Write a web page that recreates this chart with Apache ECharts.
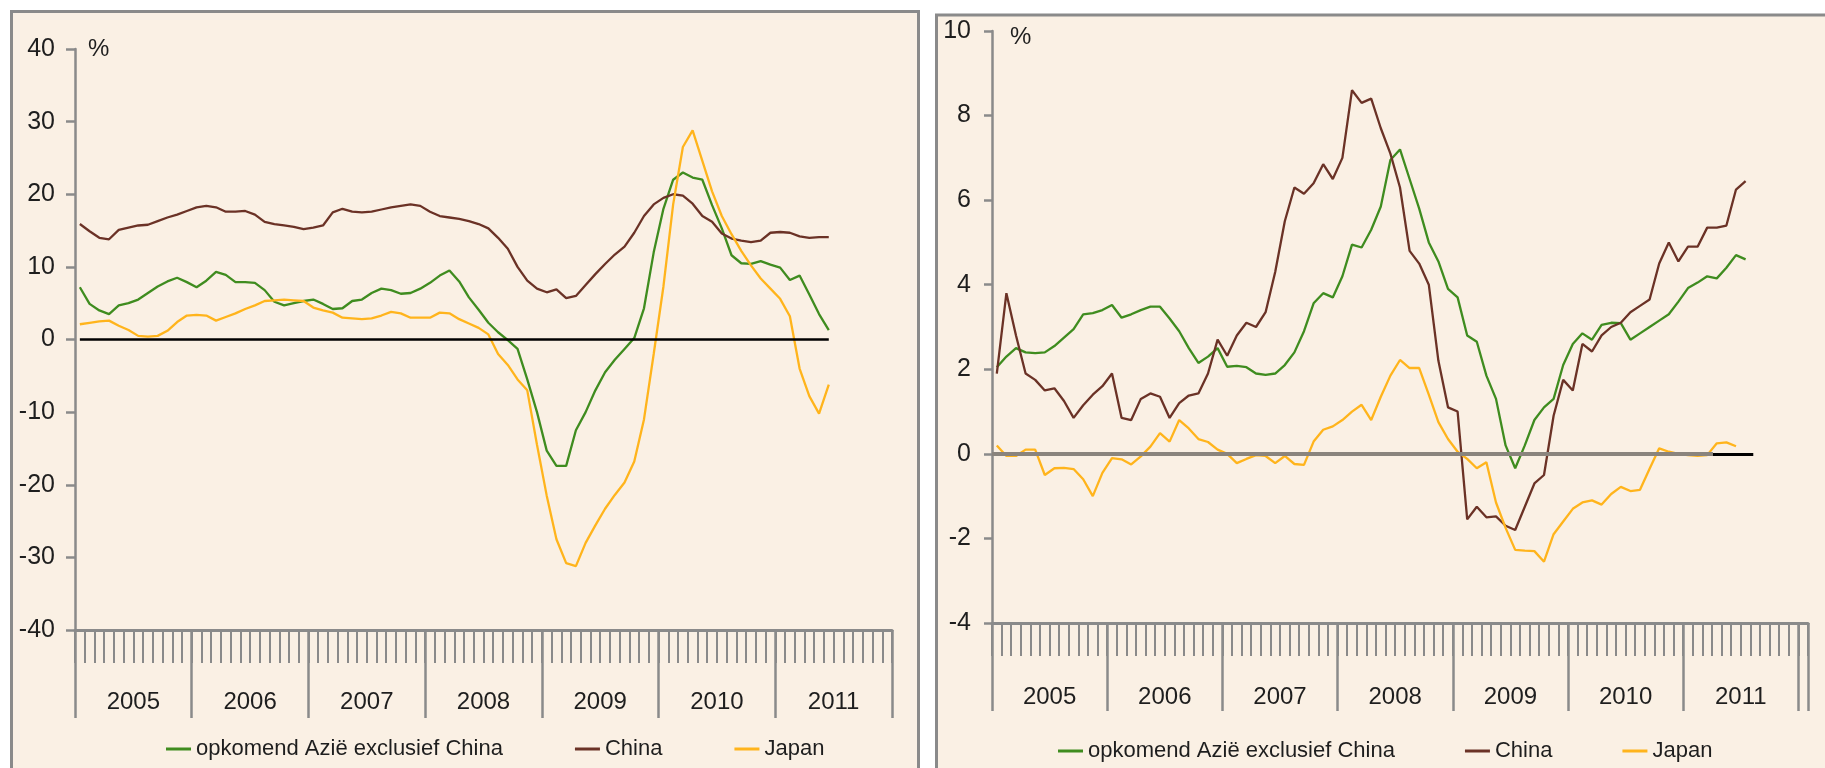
<!DOCTYPE html>
<html><head><meta charset="utf-8">
<script src="https://cdn.jsdelivr.net/npm/echarts@6/dist/echarts.min.js"></script>
<style>html,body{margin:0;padding:0;background:#fff;}#c{width:1825px;height:768px;}</style>
</head><body><div id="c"></div>
<script>
// ---- data ----
const seriesNames = ['opkomend Azië exclusief China', 'China', 'Japan'];
const yearLabels = ['2005', '2006', '2007', '2008', '2009', '2010', '2011'];
const monthsLeft = 84;   // Jan 2005 .. Dec 2011
const monthsRight = 85;  // Jan 2005 .. Jan 2012

// left panel (%), monthly from Jan 2005
const leftAsia = [7.2,4.9,4.0,3.5,4.7,5.0,5.5,6.4,7.3,8.0,
  8.5,7.9,7.2,8.1,9.3,8.9,7.9,7.9,7.8,6.8,
  5.2,4.7,5.0,5.3,5.5,4.9,4.2,4.3,5.3,5.5,
  6.4,7.0,6.8,6.3,6.4,7.0,7.8,8.8,9.5,8.0,
  5.8,4.1,2.3,1.0,-0.1,-1.3,-5.5,-10.0,-15.3,-17.4,
  -17.4,-12.5,-10.0,-7.0,-4.5,-2.8,-1.3,0.2,4.3,12.0,
  18.0,22.0,23.0,22.3,22.0,18.5,15.3,11.6,10.5,10.4,
  10.8,10.3,9.9,8.2,8.8,6.2,3.5,1.3];
const leftChina = [15.9,14.9,14.0,13.8,15.1,15.4,15.7,15.8,16.3,16.8,
  17.2,17.7,18.2,18.4,18.2,17.6,17.6,17.7,17.2,16.2,
  15.9,15.7,15.5,15.2,15.4,15.7,17.5,18.0,17.6,17.5,
  17.6,17.9,18.2,18.4,18.6,18.4,17.6,17.0,16.8,16.6,
  16.3,15.9,15.3,14.0,12.5,10.0,8.1,7.0,6.5,6.9,
  5.7,6.0,7.5,9.0,10.4,11.7,12.8,14.7,17.0,18.6,
  19.5,20.0,19.8,18.7,17.0,16.2,14.6,13.9,13.6,13.4,
  13.6,14.7,14.8,14.7,14.2,14.0,14.1,14.1];
const leftJapan = [2.1,2.3,2.5,2.6,1.9,1.3,0.5,0.4,0.5,1.2,
  2.4,3.3,3.4,3.3,2.6,3.1,3.6,4.2,4.7,5.3,
  5.4,5.5,5.4,5.3,4.4,4.0,3.7,3.0,2.9,2.8,
  2.9,3.3,3.8,3.6,3.0,3.0,3.0,3.7,3.6,2.8,
  2.2,1.6,0.7,-2.0,-3.5,-5.5,-7.0,-14.5,-21.5,-27.5,
  -30.8,-31.2,-28.0,-25.6,-23.3,-21.4,-19.7,-16.8,-11.0,-2.0,
  7.3,18.6,26.5,28.8,24.6,20.4,17.0,14.5,12.2,10.2,
  8.4,7.0,5.6,3.2,-4.0,-7.8,-10.2,-6.2];

// right panel (%), monthly from Jan 2005
const rightAsia = [2.05,2.3,2.5,2.4,2.38,2.4,2.55,2.75,2.95,3.3,
  3.33,3.4,3.52,3.22,3.3,3.4,3.48,3.48,3.2,2.9,
  2.5,2.15,2.3,2.5,2.06,2.08,2.05,1.9,1.87,1.9,
  2.1,2.4,2.9,3.56,3.8,3.7,4.2,4.95,4.88,5.3,
  5.85,6.95,7.2,6.5,5.8,5.0,4.55,3.9,3.7,2.8,
  2.65,1.85,1.3,0.2,-0.34,0.2,0.8,1.1,1.3,2.1,
  2.6,2.85,2.7,3.05,3.1,3.09,2.7,2.85,3.0,3.15,
  3.3,3.6,3.92,4.05,4.2,4.15,4.4,4.7,4.6];
const rightChina = [1.9,3.8,2.8,1.9,1.75,1.5,1.55,1.25,0.85,1.15,
  1.4,1.6,1.9,0.85,0.8,1.3,1.43,1.35,0.85,1.2,
  1.38,1.43,1.9,2.7,2.32,2.8,3.1,3.0,3.35,4.3,
  5.5,6.3,6.15,6.4,6.85,6.5,7.0,8.6,8.3,8.4,
  7.7,7.1,6.3,4.8,4.5,4.0,2.2,1.1,1.0,-1.55,
  -1.25,-1.5,-1.48,-1.7,-1.8,-1.25,-0.7,-0.5,0.9,1.75,
  1.5,2.6,2.42,2.8,3.0,3.1,3.35,3.5,3.65,4.5,
  5.0,4.55,4.9,4.9,5.35,5.35,5.4,6.25,6.45];
const rightJapan = [0.2,-0.05,-0.05,0.1,0.1,-0.5,-0.34,-0.33,-0.36,-0.6,
  -1.0,-0.45,-0.1,-0.13,-0.25,-0.06,0.17,0.49,0.29,0.8,
  0.6,0.35,0.28,0.1,0.0,-0.22,-0.12,-0.03,-0.05,-0.22,
  -0.05,-0.24,-0.26,0.29,0.57,0.65,0.8,1.0,1.16,0.8,
  1.35,1.85,2.22,2.03,2.03,1.4,0.75,0.35,0.05,-0.12,
  -0.34,-0.2,-1.15,-1.75,-2.27,-2.29,-2.3,-2.55,-1.9,-1.6,
  -1.3,-1.15,-1.1,-1.2,-0.95,-0.78,-0.88,-0.85,-0.35,0.13,
  0.05,0.0,-0.03,-0.05,-0.03,0.25,0.27,0.18];

// reference lines (x in months, y value)
const leftZero = [0.5, 77.5];
const rightZeroGray = [0, 75.1];
const rightZeroBlack = [75.1, 79.3];

// ---- styling ----
const colors = ['#3f8c1f', '#6b3226', '#ffb41c'];
const FONT = "'Liberation Sans', Arial, sans-serif";
const AX = '#8a8a8a';
const TXT = '#1e1e1e';
const BG = '#faf0e4';

function pairs(arr) { return arr.map((v, i) => [i + 0.5, v]); }

function xAxesFor(grid, max, margin) {
  return [
    { gridIndex: grid, type: 'value', position: 'bottom', min: 0, max: max, interval: 1,
      axisLine: { show: true, onZero: false, lineStyle: { color: AX, width: 3 } },
      axisTick: { show: true, inside: false, length: 33, lineStyle: { color: AX, width: 2 } },
      axisLabel: { show: false }, splitLine: { show: false } },
    { gridIndex: grid, type: 'value', position: 'bottom', min: 0, max: max, interval: 12,
      axisLine: { show: false, onZero: false },
      axisTick: { show: true, inside: false, length: 88, lineStyle: { color: AX, width: 2.5 } },
      axisLabel: { show: false }, splitLine: { show: false } },
    { gridIndex: grid, type: 'value', position: 'bottom', min: 0, max: max, interval: 6,
      axisLine: { show: false, onZero: false }, axisTick: { show: false }, splitLine: { show: false },
      axisLabel: { show: true, margin: margin, fontSize: 24, fontFamily: FONT, color: TXT,
        showMinLabel: false, showMaxLabel: false,
        formatter: v => (v % 12 === 6 ? yearLabels[(v - 6) / 12] : '') } }
  ];
}

function yAxisFor(grid, min, max, interval, tickLen, margin, nameGap, namePad) {
  return { gridIndex: grid, type: 'value', min: min, max: max, interval: interval,
    name: '%', nameLocation: 'end', nameGap: nameGap,
    nameTextStyle: { fontSize: 24, fontFamily: FONT, color: TXT, align: 'left', verticalAlign: 'middle', padding: [0, 0, 0, namePad] },
    axisLine: { show: true, onZero: false, lineStyle: { color: AX, width: 2.5 } },
    axisTick: { show: true, inside: false, length: tickLen, lineStyle: { color: AX, width: 2.5 } },
    axisLabel: { show: true, margin: margin, fontSize: 25, fontFamily: FONT, color: TXT },
    splitLine: { show: false } };
}

function lineSeries(name, color, xi, yi, data, extra) {
  return Object.assign({ name: name, type: 'line', xAxisIndex: xi, yAxisIndex: yi,
    data: pairs(data), showSymbol: false, symbol: 'none', silent: true,
    lineStyle: { color: color, width: 2.3 }, itemStyle: { color: color }, z: 3 }, extra || {});
}

function legendFor(left, top, gap) {
  return { left: left, top: top, orient: 'horizontal', icon: 'rect', itemWidth: 25, itemHeight: 3,
    itemGap: gap, selectedMode: false, data: seriesNames.slice(),
    textStyle: { fontSize: 22, fontFamily: FONT, color: TXT } };
}

const option = {
  animation: false,
  backgroundColor: 'transparent',
  graphic: [
    { type: 'rect', z: -10, silent: true, shape: { x: 11.5, y: 11.5, width: 907, height: 800 },
      style: { fill: BG, stroke: AX, lineWidth: 3 } },
    { type: 'rect', z: -10, silent: true, shape: { x: 936.5, y: 15, width: 900, height: 800 },
      style: { fill: BG, stroke: AX, lineWidth: 3 } }
  ],
  grid: [
    { left: 75, top: 49, width: 817, height: 581 },
    { left: 992, top: 31, width: 816, height: 592 }
  ],
  xAxis: xAxesFor(0, monthsLeft, 60).concat(xAxesFor(1, monthsRight, 62)),
  yAxis: [
    yAxisFor(0, -40, 40, 10, 9, 20, 0, 13),
    yAxisFor(1, -4, 10, 2, 8, 21, -6, 18)
  ],
  legend: [legendFor(161, 733, 72), legendFor(1053, 735, 70)],
  series: [
    lineSeries(seriesNames[0], colors[0], 0, 0, leftAsia, {
      markLine: { silent: true, symbol: ['none', 'none'], label: { show: false },
        lineStyle: { color: '#000', width: 2.5, type: 'solid' },
        data: [[{ coord: [leftZero[0], 0] }, { coord: [leftZero[1], 0] }]] } }),
    lineSeries(seriesNames[1], colors[1], 0, 0, leftChina),
    lineSeries(seriesNames[2], colors[2], 0, 0, leftJapan),
    lineSeries(seriesNames[0], colors[0], 3, 1, rightAsia, {
      markLine: { silent: true, symbol: ['none', 'none'], label: { show: false },
        data: [
          [{ coord: [rightZeroGray[0], 0], lineStyle: { color: '#8a847d', width: 4, type: 'solid' } },
           { coord: [rightZeroGray[1], 0] }],
          [{ coord: [rightZeroBlack[0], 0], lineStyle: { color: '#000', width: 3, type: 'solid' } },
           { coord: [rightZeroBlack[1], 0] }]
        ] } }),
    lineSeries(seriesNames[1], colors[1], 3, 1, rightChina),
    lineSeries(seriesNames[2], colors[2], 3, 1, rightJapan)
  ]
};

const chart = echarts.init(document.getElementById('c'), null, { renderer: 'canvas' });
chart.setOption(option);
</script>
</body></html>
